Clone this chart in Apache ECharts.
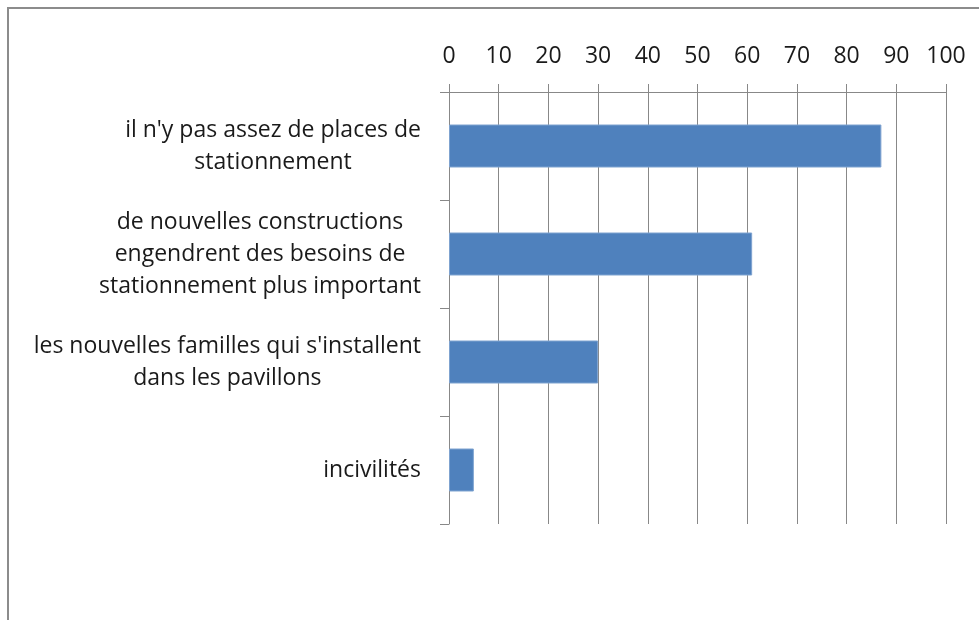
<!DOCTYPE html>
<html>
<head>
<meta charset="utf-8">
<script src="https://cdn.jsdelivr.net/npm/echarts@6/dist/echarts.min.js"></script>
<style>
  html, body { margin: 0; padding: 0; background: #fff; }
  #frame { position: absolute; left: 7px; top: 7px; width: 990px; height: 630px; border: 2px solid #8c8c8c; box-sizing: border-box; }
  #chart { position: absolute; left: 0; top: 0; width: 979px; height: 620px; }
</style>
</head>
<body>
<div id="frame"></div>
<div id="chart"></div>
<script>
// categories top to bottom
const categories = [
  "il n'y pas assez de places de\nstationnement",
  'de nouvelles constructions\nengendrent des besoins de\nstationnement plus important',
  "les nouvelles familles qui s'installent\ndans les pavillons",
  'incivilités'
]
const values = [87, 61, 30, 5]
const xTicks = [0, 100, 10] // min, max, interval

const chart = echarts.init(document.getElementById('chart'))

const labelFont = 'Open Sans, Noto Sans, sans-serif'
const gridColor = '#888'

chart.setOption({
  animation: false,
  grid: { left: 449, right: 33, top: 92, bottom: 96 },
  xAxis: {
    type: 'value',
    position: 'top',
    min: xTicks[0],
    max: xTicks[1],
    interval: xTicks[2],
    axisLine: { show: true, lineStyle: { color: gridColor, width: 1 } },
    axisTick: { show: true, length: 8, lineStyle: { color: gridColor } },
    splitLine: { show: true, lineStyle: { color: gridColor, width: 1 } },
    axisLabel: { margin: 24, color: '#1a1a1a', fontSize: 23, fontFamily: labelFont }
  },
  yAxis: {
    type: 'category',
    inverse: true,
    data: categories,
    axisLine: { show: true, lineStyle: { color: gridColor, width: 1 } },
    axisTick: { show: true, length: 9, lineStyle: { color: gridColor } },
    axisLabel: {
      margin: 28,
      align: 'right',
      color: '#1a1a1a',
      fontSize: 23,
      lineHeight: 32,
      fontFamily: labelFont,
      formatter: (v) => v.split('\n').map(s => '{c|' + s + '}').join('\n'),
      rich: { c: { align: 'center', fontSize: 23, lineHeight: 32, fontFamily: labelFont, color: '#1a1a1a' } }
    }
  },
  series: [{
    type: 'bar',
    data: values,
    barWidth: 43,
    itemStyle: { color: '#4f81bd', borderColor: '#7fa3d0', borderWidth: 1 }
  }]
})
</script>
</body>
</html>
